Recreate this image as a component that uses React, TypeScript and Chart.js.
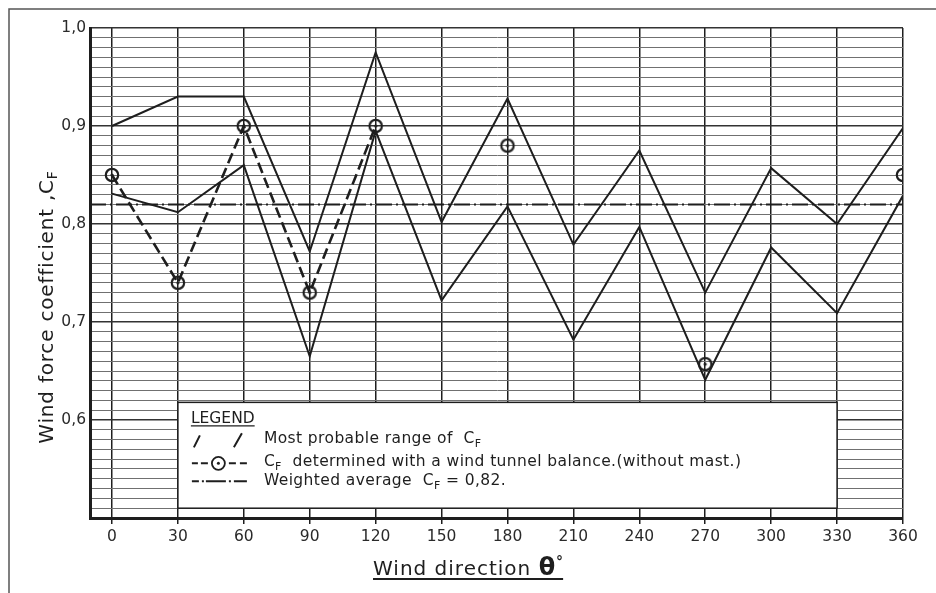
import React, { useEffect, useRef } from "react";
import { Chart, registerables } from "chart.js";

Chart.register(...registerables);

// ---- data ----
const directions = [0, 30, 60, 90, 120, 150, 180, 210, 240, 270, 300, 330, 360];
const upperRange = [0.9, 0.93, 0.93, 0.772, 0.975, 0.802, 0.928, 0.779, 0.875, 0.73, 0.857, 0.8, 0.898];
const lowerRange = [0.831, 0.812, 0.86, 0.665, 0.895, 0.722, 0.818, 0.682, 0.797, 0.641, 0.776, 0.709, 0.829];
const tunnelValues: (number | null)[] = [0.85, 0.74, 0.9, 0.73, 0.9, null, 0.88, null, null, 0.657, null, null, 0.85];
const weightedAverage = 0.82;
const averageSpan = [-10, 360];

const xTicks = [0, 30, 60, 90, 120, 150, 180, 210, 240, 270, 300, 330, 360];
const yLabelValues = [0.6, 0.7, 0.8, 0.9, 1.0];
const yTickLabels = ["0,6", "0,7", "0,8", "0,9", "1,0"];
const yMinorStep = 0.01;
const yMin = 0.5;
const yMax = 1.0;
const xMin = -10;
const xMax = 360;

const FONT = "'DejaVu Sans', 'Liberation Sans', sans-serif";
const INK = "#1e1e1e";

type Part = { t: string; sub?: boolean };

function setSpacing(ctx: CanvasRenderingContext2D, px: number) {
  (ctx as any).letterSpacing = `${px}px`;
}

function drawParts(ctx: CanvasRenderingContext2D, x: number, y: number, parts: Part[], size: number) {
  let cx = x;
  for (const p of parts) {
    if (p.sub) {
      ctx.font = `${Math.round(size * 0.72)}px ${FONT}`;
      ctx.fillText(p.t, cx, y + size * 0.22);
      cx += ctx.measureText(p.t).width;
    } else {
      ctx.font = `${size}px ${FONT}`;
      ctx.fillText(p.t, cx, y);
      cx += ctx.measureText(p.t).width;
    }
  }
  return cx;
}

function partsWidth(ctx: CanvasRenderingContext2D, parts: Part[], size: number) {
  let w = 0;
  for (const p of parts) {
    ctx.font = `${p.sub ? Math.round(size * 0.72) : size}px ${FONT}`;
    w += ctx.measureText(p.t).width;
  }
  return w;
}

function makeMarker(): HTMLCanvasElement {
  const c = document.createElement("canvas");
  c.width = 18;
  c.height = 18;
  const g = c.getContext("2d")!;
  g.strokeStyle = INK;
  g.lineWidth = 2.2;
  g.beginPath();
  g.arc(9, 9, 6.2, 0, Math.PI * 2);
  g.stroke();
  g.fillStyle = INK;
  g.beginPath();
  g.arc(9, 9, 1.6, 0, Math.PI * 2);
  g.fill();
  return c;
}

const decorPlugin = {
  id: "decor",
  beforeDatasetsDraw(chart: any) {
    const ctx: CanvasRenderingContext2D = chart.ctx;
    const xs = chart.scales.x;
    const ys = chart.scales.y;
    const L = xs.getPixelForValue(30);
    const R = xs.getPixelForValue(330);
    const T = ys.getPixelForValue(0.618);
    const B = ys.getPixelForValue(0.51);
    ctx.save();
    ctx.fillStyle = "#ffffff";
    ctx.fillRect(L, T, R - L, B - T);
    ctx.strokeStyle = INK;
    ctx.lineWidth = 1.5;
    ctx.strokeRect(L, T, R - L, B - T);

    ctx.fillStyle = INK;
    ctx.strokeStyle = INK;
    const fs = 15.5;
    setSpacing(ctx, 0.4);
    // LEGEND heading
    ctx.font = `${fs}px ${FONT}`;
    ctx.textBaseline = "alphabetic";
    ctx.textAlign = "left";
    setSpacing(ctx, 0);
    ctx.fillText("LEGEND", L + 13, T + 21);
    const lw = ctx.measureText("LEGEND").width;
    ctx.lineWidth = 1.3;
    ctx.beginPath();
    ctx.moveTo(L + 13, T + 23.5);
    ctx.lineTo(L + 13 + lw, T + 23.5);
    ctx.stroke();
    setSpacing(ctx, 0.4);

    // row 1 symbol: slashes
    ctx.lineWidth = 2;
    ctx.beginPath();
    ctx.moveTo(L + 16, T + 45);
    ctx.lineTo(L + 22, T + 33);
    ctx.moveTo(L + 56, T + 45);
    ctx.lineTo(L + 64, T + 31);
    ctx.stroke();
    drawParts(ctx, L + 86, T + 41, [{ t: "Most probable range of  C" }, { t: "F", sub: true }], fs);

    // row 2 symbol: dashes + circle
    const y2 = T + 61;
    ctx.lineWidth = 2;
    ctx.beginPath();
    ctx.moveTo(L + 14, y2); ctx.lineTo(L + 20, y2);
    ctx.moveTo(L + 23, y2); ctx.lineTo(L + 30, y2);
    ctx.moveTo(L + 51, y2); ctx.lineTo(L + 58, y2);
    ctx.moveTo(L + 62, y2); ctx.lineTo(L + 69, y2);
    ctx.stroke();
    ctx.lineWidth = 1.8;
    ctx.beginPath();
    ctx.arc(L + 40.5, y2, 6.5, 0, Math.PI * 2);
    ctx.stroke();
    ctx.beginPath();
    ctx.arc(L + 40.5, y2, 1.5, 0, Math.PI * 2);
    ctx.fill();
    drawParts(
      ctx,
      L + 86,
      T + 64,
      [{ t: "C" }, { t: "F", sub: true }, { t: "  determined with a wind tunnel balance.(without mast.)" }],
      fs
    );

    // row 3 symbol: dash-dot
    const y3 = T + 79;
    ctx.lineWidth = 2;
    ctx.beginPath();
    ctx.moveTo(L + 14, y3); ctx.lineTo(L + 21, y3);
    ctx.moveTo(L + 24, y3); ctx.lineTo(L + 26, y3);
    ctx.moveTo(L + 28, y3); ctx.lineTo(L + 48, y3);
    ctx.moveTo(L + 51, y3); ctx.lineTo(L + 53, y3);
    ctx.moveTo(L + 56, y3); ctx.lineTo(L + 69, y3);
    ctx.stroke();
    drawParts(
      ctx,
      L + 86,
      T + 83,
      [{ t: "Weighted average  C" }, { t: "F", sub: true }, { t: " = 0,82." }],
      fs
    );
    setSpacing(ctx, 0);
    ctx.restore();
  },
  afterDraw(chart: any) {
    const ctx: CanvasRenderingContext2D = chart.ctx;
    ctx.save();
    // outer frame (top, left)
    ctx.strokeStyle = "#555";
    ctx.lineWidth = 1.5;
    ctx.beginPath();
    ctx.moveTo(9, chart.height);
    ctx.lineTo(9, 9);
    ctx.lineTo(chart.width, 9);
    ctx.stroke();

    ctx.fillStyle = INK;
    ctx.strokeStyle = INK;
    ctx.textBaseline = "alphabetic";
    ctx.textAlign = "left";

    // y title
    const ySize = 20;
    setSpacing(ctx, 0.8);
    const yParts: Part[] = [{ t: "Wind force coefficient ,C" }, { t: "F", sub: true }];
    const yw = partsWidth(ctx, yParts, ySize);
    ctx.save();
    ctx.translate(53, 307 + yw / 2);
    ctx.rotate(-Math.PI / 2);
    drawParts(ctx, 0, 0, yParts, ySize);
    ctx.restore();

    // x title
    const xSize = 20;
    const x0 = 373;
    const base = 575;
    setSpacing(ctx, 1);
    ctx.font = `${xSize}px ${FONT}`;
    ctx.fillText("Wind direction ", x0, base);
    let cx = x0 + ctx.measureText("Wind direction ").width;
    setSpacing(ctx, 0);
    ctx.font = `bold 24px ${FONT}`;
    ctx.fillText("θ", cx, base);
    cx += ctx.measureText("θ").width + 1;
    ctx.font = `bold 14px ${FONT}`;
    ctx.fillText("°", cx, base - 9);
    cx += ctx.measureText("°").width;
    ctx.lineWidth = 2;
    ctx.beginPath();
    ctx.moveTo(x0, base + 4);
    ctx.lineTo(cx, base + 4);
    ctx.stroke();
    ctx.restore();
  },
};

export default function App() {
  const ref = useRef<HTMLCanvasElement | null>(null);

  useEffect(() => {
    document.body.style.margin = "0";
    const canvas = ref.current!;
    const marker = makeMarker();
    const pts = (vals: (number | null)[]) => directions.map((d, i) => ({ x: d, y: vals[i] }));

    const chart = new Chart(canvas, {
      type: "line",
      data: {
        datasets: [
          {
            label: "Upper bound",
            data: pts(upperRange),
            borderColor: INK,
            borderWidth: 2,
            pointRadius: 0,
            fill: false,
            tension: 0,
          },
          {
            label: "Lower bound",
            data: pts(lowerRange),
            borderColor: INK,
            borderWidth: 2,
            pointRadius: 0,
            fill: false,
            tension: 0,
          },
          {
            label: "Wind tunnel",
            data: pts(tunnelValues),
            borderColor: INK,
            borderWidth: 2.6,
            borderDash: [11, 5],
            pointStyle: marker as any,
            pointRadius: 7,
            spanGaps: false,
            fill: false,
            tension: 0,
          },
          {
            label: "Weighted average",
            data: averageSpan.map((x) => ({ x, y: weightedAverage })),
            borderColor: INK,
            borderWidth: 2,
            borderDash: [16, 4, 2, 4],
            pointRadius: 0,
            fill: false,
          },
        ],
      },
      options: {
        responsive: false,
        animation: false,
        events: [],
        layout: { padding: { top: 28, right: 33, left: 0, bottom: 0 } },
        plugins: { legend: { display: false }, tooltip: { enabled: false } },
        scales: {
          x: {
            type: "linear",
            min: xMin,
            max: xMax,
            afterBuildTicks: (scale: any) => {
              scale.ticks = xTicks.map((v) => ({ value: v }));
            },
            afterFit: (scale: any) => {
              scale.height = 75;
            },
            grid: {
              color: INK,
              lineWidth: 1.5,
              tickLength: 6,
              drawTicks: true,
            },
            border: { color: INK, width: 3 },
            ticks: {
              padding: 4,
              color: "#2a2a2a",
              font: { family: FONT, size: 15.5 },
              maxRotation: 0,
              autoSkip: false,
              callback: (v: any) => String(v),
            },
          },
          y: {
            type: "linear",
            min: yMin,
            max: yMax,
            afterBuildTicks: (scale: any) => {
              const n = Math.round((yMax - yMin) / yMinorStep);
              const t = [];
              for (let i = 0; i <= n; i++) t.push({ value: +(yMin + i * yMinorStep).toFixed(2) });
              scale.ticks = t;
            },
            afterFit: (scale: any) => {
              scale.width = 90;
            },
            grid: {
              drawTicks: false,
              color: (c: any) => {
                const v = c.tick ? c.tick.value : 0;
                return Math.abs(v * 10 - Math.round(v * 10)) < 1e-6 ? "#333" : "#707070";
              },
              lineWidth: (c: any) => {
                const v = c.tick ? c.tick.value : 0;
                return Math.abs(v * 10 - Math.round(v * 10)) < 1e-6 ? 1.6 : 1;
              },
            },
            border: { color: INK, width: 3 },
            ticks: {
              padding: 4,
              color: "#2a2a2a",
              font: { family: FONT, size: 15.5 },
              autoSkip: false,
              callback: (v: any) => {
                const idx = yLabelValues.findIndex((y) => Math.abs(y - v) < 1e-6);
                return idx >= 0 ? yTickLabels[idx] : "";
              },
            },
          },
        },
      },
      plugins: [decorPlugin],
    });
    return () => chart.destroy();
  }, []);

  return (
    <div style={{ width: 936, height: 593, background: "#fff", position: "relative" }}>
      <canvas ref={ref} width={936} height={593} style={{ display: "block" }} />
    </div>
  );
}
